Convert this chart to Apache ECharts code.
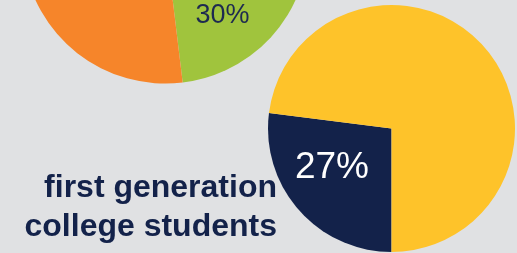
<!DOCTYPE html>
<html>
<head>
<meta charset="utf-8">
<script src="https://cdn.jsdelivr.net/npm/echarts@6/dist/echarts.min.js"></script>
<style>
  html, body { margin: 0; padding: 0; background: #e0e1e3; }
  #chart { width: 517px; height: 253px; }
</style>
</head>
<body>
<div id="chart"></div>
<script>
// top pie (cut off by the top edge)
const topNames = ['group', 'rest'];
const topValues = [30, 70];
const topColors = ['#a0c43d', '#f6852a'];

// bottom pie
const genNames = ['first generation college students', 'other students'];
const genValues = [27, 73];
const genColors = ['#13224a', '#fec32a'];

const caption = ['first generation', 'college students'];

const font = '"Liberation Sans", Arial, Helvetica, sans-serif';

function makeData(names, values, colors, labelColor, fontSize) {
    return names.map((name, i) => ({
        name: name,
        value: values[i],
        itemStyle: { color: colors[i] },
        label: i === 0 ? {
            show: true,
            position: 'inside',
            formatter: '{d}%',
            color: labelColor,
            fontSize: fontSize,
            fontFamily: font
        } : { show: false }
    }));
}

const chart = echarts.init(document.getElementById('chart'), null, { renderer: 'canvas' });

chart.setOption({
    backgroundColor: '#e0e1e3',
    animation: false,
    series: [
        {
            name: 'top',
            type: 'pie',
            center: [165.5, -59.4],
            radius: 143,
            startAngle: 24.9,
            clockwise: true,
            silent: true,
            labelLine: { show: false },
            itemStyle: { borderWidth: 0 },
            labelLayout: function (p) {
                return p.dataIndex === 0 ? { dx: -8, dy: 39 } : {};
            },
            data: makeData(topNames, topValues, topColors, '#1d2a50', 27)
        },
        {
            name: 'first generation',
            type: 'pie',
            center: [391.5, 128.5],
            radius: 123.5,
            startAngle: -90,
            clockwise: true,
            silent: true,
            labelLine: { show: false },
            itemStyle: { borderWidth: 0 },
            labelLayout: function (p) {
                return p.dataIndex === 0 ? { dx: -11, dy: -4 } : {};
            },
            data: makeData(genNames, genValues, genColors, '#ffffff', 37)
        }
    ],
    graphic: [
        {
            type: 'text',
            x: 277,
            y: 169,
            style: {
                text: caption.join('\n'),
                align: 'right',
                verticalAlign: 'top',
                fill: '#13224a',
                font: 'bold 32px ' + font,
                lineHeight: 38.5
            }
        }
    ]
});
</script>
</body>
</html>
